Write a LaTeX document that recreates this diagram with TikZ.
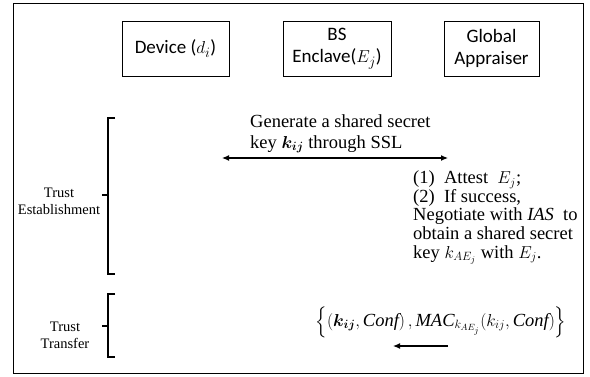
\documentclass[tikz,border=0pt]{standalone}
\usepackage{amsmath}
\usepackage{fontspec}
\setmainfont{Liberation Serif}
\newfontfamily\calibri{Carlito}
\usetikzlibrary{arrows.meta,calc}
\begin{document}
\begin{tikzpicture}[x=1pt,y=-1pt,
  actor/.style={draw,line width=0.9pt,minimum height=55pt,align=center,inner sep=2pt,font=\calibri\fontsize{19}{22}\selectfont},
  sidelabel/.style={align=center,inner sep=0pt,anchor=base,font=\fontsize{14.5}{16.5}\selectfont},
  brk/.style={line width=1.1pt},
  tip/.tip={Latex[length=7pt,width=6pt]},
  msg/.style={line width=1.2pt,-tip}]
\useasboundingbox (0,0) rectangle (590,376);
\draw[line width=0.9pt] (13,3) rectangle (583,373);
% actors
\node[actor,minimum width=107pt] (dev) at (175.5,48.5) {Device ($d_i$)};
\node[actor,minimum width=108pt] (bs) at (337,48.5) {BS\\Enclave($E_j$)};
\node[actor,minimum width=95pt] (ga) at (491.5,48.5) {Global\\Appraiser};
% brackets
\coordinate (b1t) at (108,118);
\coordinate (b1b) at (108,274);
\draw[brk] ($(b1t)+(7,0)$) -- (b1t) -- (b1b) -- ($(b1b)+(7,0)$);
\draw[brk] (102,195) -- (108,195);
\node[sidelabel] (te) at (59,214) {Trust\\Establishment};
\coordinate (b2t) at (108,294);
\coordinate (b2b) at (108,357);
\draw[brk] ($(b2t)+(7,0)$) -- (b2t) -- (b2b) -- ($(b2b)+(7,0)$);
\draw[brk] (102,326) -- (108,326);
\node[sidelabel] (tt) at (65,348) {Trust\\Transfer};
% message 1
\node[align=left,anchor=north west,inner sep=0pt,font=\fontsize{18.5}{21}\selectfont] (gen) at (250,114) {Generate a shared secret\\key $\boldsymbol{k_{ij}}$ through SSL};
\coordinate (a1l) at (222,158);
\coordinate (a1r) at (448,158);
\draw[msg,tip-tip] (a1l) -- (a1r);
% attest text
\node[align=left,anchor=north west,inner sep=0pt,font=\fontsize{18.5}{18.7}\selectfont] (att) at (413,170.5) {(1)\ \ Attest\ \ $E_j$;\\(2)\ \ If success,\\Negotiate with \textit{IAS}\ \ to\\obtain a shared secret\\key $k_{AE_j}$ with $E_j$.};
% message 2
\node[inner sep=0pt,font=\fontsize{18.5}{21}\selectfont] (form) at (441,322) {$\left\{\left(\boldsymbol{k_{ij}},\mathit{Conf}\right),\mathit{MAC}_{k_{AE_j}}\!\left(k_{ij},\mathit{Conf}\right)\right\}$};
\coordinate (a2r) at (448,346);
\coordinate (a2l) at (393,346);
\draw[msg] (a2r) -- (a2l);
\end{tikzpicture}
\end{document}
